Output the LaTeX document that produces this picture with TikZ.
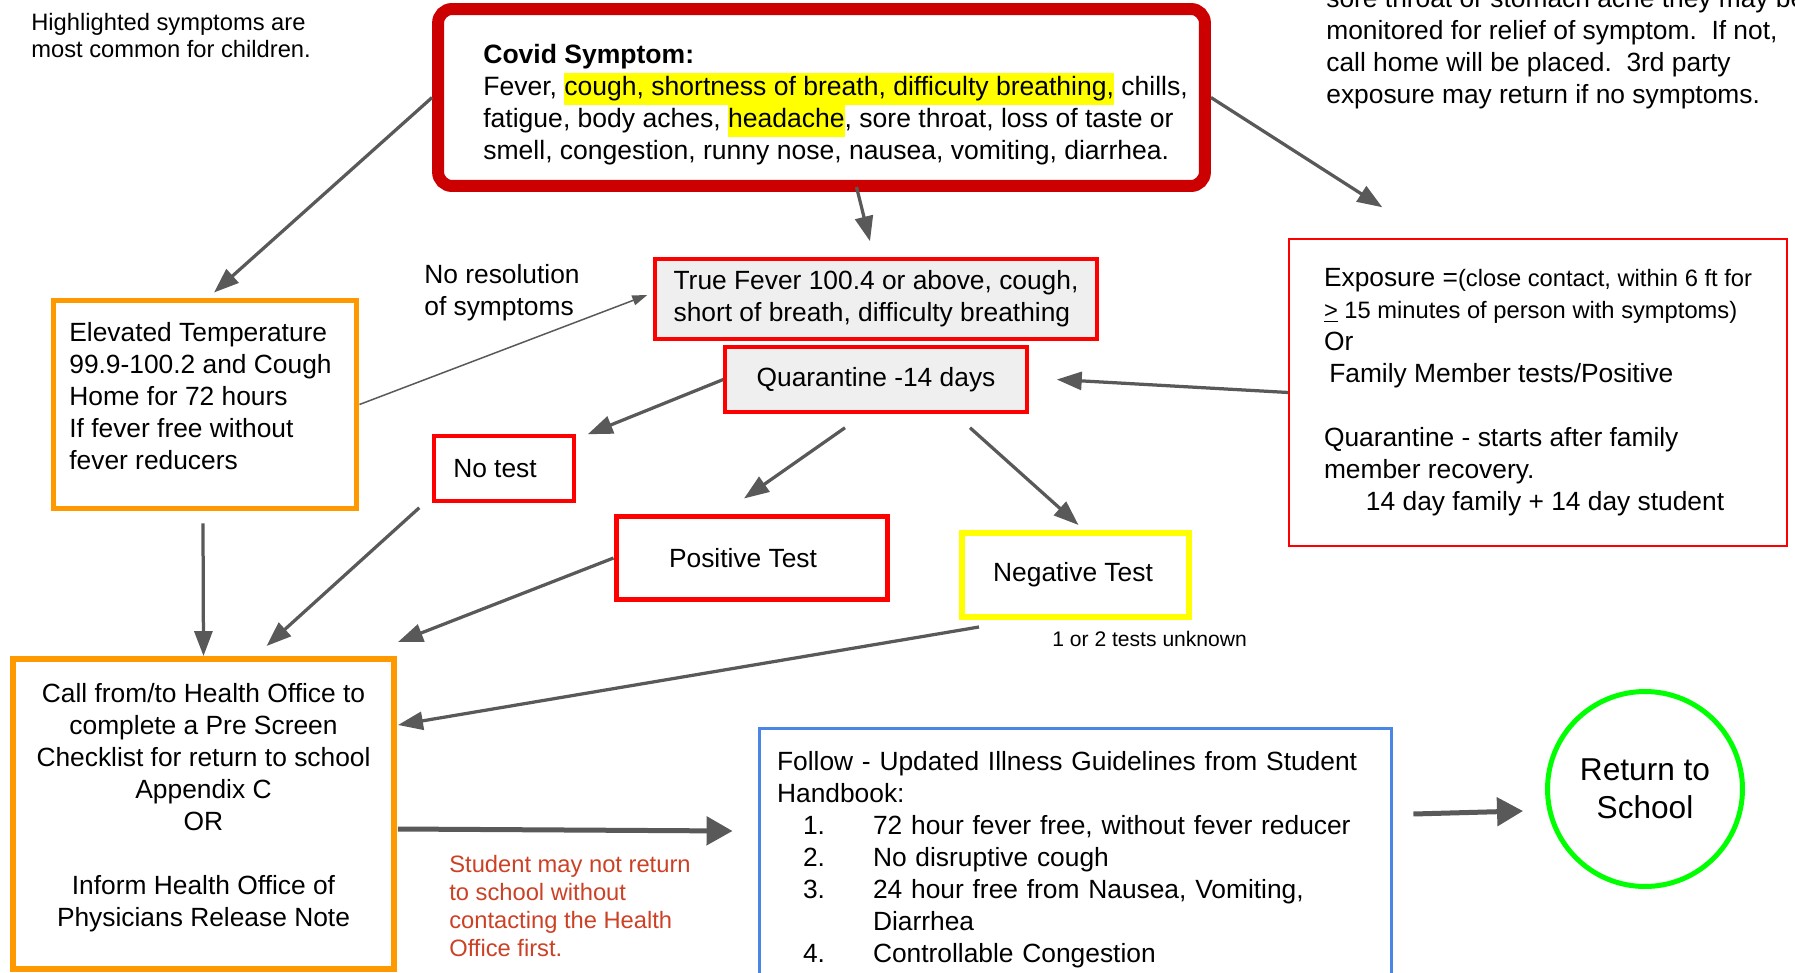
\documentclass[tikz,border=0pt]{standalone}
\usepackage{fontspec}
\setmainfont{Liberation Sans}
\usepackage{tikz}
\usetikzlibrary{arrows.meta, positioning, shapes.geometric}
\usepackage{xcolor}
\definecolor{covidred}{RGB}{204,0,0}
\definecolor{boxred}{RGB}{255,0,0}
\definecolor{temporange}{RGB}{255,153,0}
\definecolor{negyellow}{RGB}{255,255,0}
\definecolor{guideblue}{RGB}{74,134,232}
\definecolor{schoolgreen}{RGB}{0,255,0}
\definecolor{boxgray}{RGB}{239,239,239}
\definecolor{arrowgray}{RGB}{89,89,89}
\definecolor{warnred}{RGB}{204,65,37}
\newcommand{\bodyfont}{\fontsize{15}{18.2}\selectfont}
\newcommand{\notefont}{\fontsize{13.5}{15.8}\selectfont}
\newcommand{\notesize}{\fontsize{13.5}{18.2}\selectfont}
\newcommand{\smallfont}{\fontsize{12}{14.4}\selectfont}
\newcommand{\bigfont}{\fontsize{18}{21.5}\selectfont}
\newcommand{\hlt}[1]{{\setlength{\fboxsep}{0pt}\colorbox{negyellow}{\strut #1}}}
\newcommand{\gitem}[1]{\hspace*{0.52cm}\makebox[1.4cm][l]{#1}}

\begin{document}
\begin{tikzpicture}[x=0.02cm, y=-0.02cm, every node/.style={font=\bodyfont},
    flow/.style={draw=arrowgray, line width=0.065cm, -{Triangle[length=0.5cm, width=0.36cm]}},
    bigflow/.style={draw=arrowgray, line width=0.1cm, -{Triangle[length=0.52cm, width=0.56cm]}},
    thinflow/.style={draw=arrowgray, line width=0.03cm, -{Triangle[length=0.3cm, width=0.2cm]}},
    redbox/.style={draw=boxred, line width=0.07cm, fill=boxgray, align=left},
    freetext/.style={align=left, anchor=west, inner sep=0pt}]
        \useasboundingbox (0,0) rectangle (1795,973);
        \clip (0,0) rectangle (1795,973);
        % Notes at the top
        \node[freetext, font=\notefont] (kids) at (31,35.5)
          {Highlighted symptoms are\\most common for children.};
        \node[freetext] (monitor) at (1326,48.5)
          {sore throat or stomach ache they may be\\monitored for relief of symptom.\ \ If not,\\call home will be placed.\ \ 3rd party\\exposure may return if no symptoms.};
        % Covid symptoms
        \node[draw=covidred, line width=0.24cm, rounded corners=0.28cm,
              minimum width=15.34cm, minimum height=3.54cm]
          (covid) at (821.5,97.5) {};
        \node[freetext, font=\fontsize{15.1}{18.2}\selectfont] (covidtext) at (483,105)
          {\textbf{Covid Symptom:}\\Fever, \hlt{cough, shortness of breath, difficulty breathing,} chills,\\fatigue, body aches, \hlt{headache}, sore throat, loss of taste or\\smell, congestion, runny nose, nausea, vomiting, diarrhea.};
        % Elevated temperature
        \node[draw=temporange, line width=0.1cm, minimum width=6.08cm, minimum height=4.18cm]
          (elev) at (205,404.5) {};
        \node[freetext] (elevtext) at (69,396)
          {Elevated Temperature\\99.9-100.2 and Cough\\Home for 72 hours\\If fever free without\\fever reducers};
        \node[freetext] (nores) at (424,293) {No resolution\\of symptoms};
        % True fever and quarantine
        \node[redbox, minimum width=8.84cm, minimum height=1.6cm]
          (fever) at (876,299) {True Fever 100.4 or above, cough,\\short of breath, difficulty breathing};
        \node[redbox, minimum width=6.04cm, minimum height=1.3cm]
          (quar) at (876,379.5) {Quarantine -14 days};
        % Tests
        \node[draw=boxred, line width=0.07cm, minimum width=2.8cm, minimum height=1.3cm]
          (notest) at (504,468.5) {No test\hspace*{0.36cm}};
        \node[draw=boxred, line width=0.1cm, minimum width=5.44cm, minimum height=1.68cm]
          (pos) at (752,558) {Positive Test\hspace*{0.36cm}};
        \node[draw=negyellow, line width=0.12cm, minimum width=4.54cm, minimum height=1.68cm]
          (neg) at (1075.5,575) {Negative Test\hspace*{0.1cm}};
        \node[freetext, font=\smallfont] (unknown) at (1052,639) {1 or 2 tests unknown};
        % Exposure
        \node[draw=boxred, line width=0.03cm,
              minimum width=9.96cm, minimum height=6.14cm, align=left]
          (expo) at (1538,392.5) {Exposure ={\notesize(close contact, within 6 ft for}\\{\notesize\underline{>} 15 minutes of person with symptoms)}\\Or\\\hspace*{3pt}Family Member tests/Positive\\[0.64cm]Quarantine - starts after family\\member recovery.\\\hspace*{0.84cm}14 day family + 14 day student};
        % Health office
        \node[draw=temporange, line width=0.12cm, minimum width=7.62cm, minimum height=6.2cm]
          (call) at (203.5,814) {};
        \node[align=center, inner sep=0pt] (calltext) at (203.5,808)
          {Call from/to Health Office to\\complete a Pre Screen\\Checklist for return to school\\Appendix C\\OR\\[0.64cm]Inform Health Office of\\Physicians Release Note};
        \node[freetext, font=\notefont, text=warnred] (warn) at (449,906)
          {Student may not return\\to school without\\contacting the Health\\Office first.};
        % Guidelines
        \node[draw=guideblue, line width=0.06cm, anchor=north, text width=11.94cm,
              inner xsep=0.36cm, inner ysep=0.46cm, align=left]
          (follow) at (1075.5,727) {Follow - Updated Illness Guidelines from Student\\Handbook:\\\gitem{1.}72 hour fever free, without fever reducer\\\gitem{2.}No disruptive cough\\\gitem{3.}24 hour free from Nausea, Vomiting,\\\hspace*{1.92cm}Diarrhea\\\gitem{4.}Controllable Congestion};
        % Return
        \node[draw=schoolgreen, line width=0.1cm, circle, minimum size=3.9cm,
              align=center, font=\bigfont]
          (ret) at (1645,789) {Return to\\School};
        % Arrows
        \draw[flow] (covid.west) -- ([shift={(9,-5)}]elev.north);
        \draw[flow] ([shift={(35,-5)}]covid.south) -- ([shift={(-6,-16)}]fever.north);
        \draw[flow] (covid.east) -- ([shift={(94,-31)}]expo.north west);
        \draw[thinflow] (elev.east) -- ([shift={(-6,-4)}]fever.west);
        \draw[flow] (quar.west) -- ([shift={(12,0)}]notest.north east);
        \draw[flow] ([shift={(-31,14)}]quar.south) -- ([shift={(-8,-15)}]pos.north);
        \draw[flow] ([shift={(94,14)}]quar.south) -- ([shift={(3,-5)}]neg.north);
        \draw[flow] (expo.west) -- ([shift={(28,0)}]quar.east);
        \draw[flow] ([shift={(-2,12)}]elev.south) -- (call.north);
        \draw[flow] ([shift={(-13,5)}]notest.south west) -- ([shift={(63,-10)}]call.north);
        \draw[flow] (pos.west) -- ([shift={(1,-14)}]call.north east);
        \draw[flow] ([shift={(20,7)}]neg.south west) -- ([shift={(1,-89)}]call.east);
        \draw[bigflow] ([shift={(1,15)}]call.east) -- ([shift={(-25,104)}]follow.north west);
        \draw[bigflow] ([shift={(20,87)}]follow.north east) -- ([shift={(-22,22)}]ret.west);
      \end{tikzpicture}
\end{document}
